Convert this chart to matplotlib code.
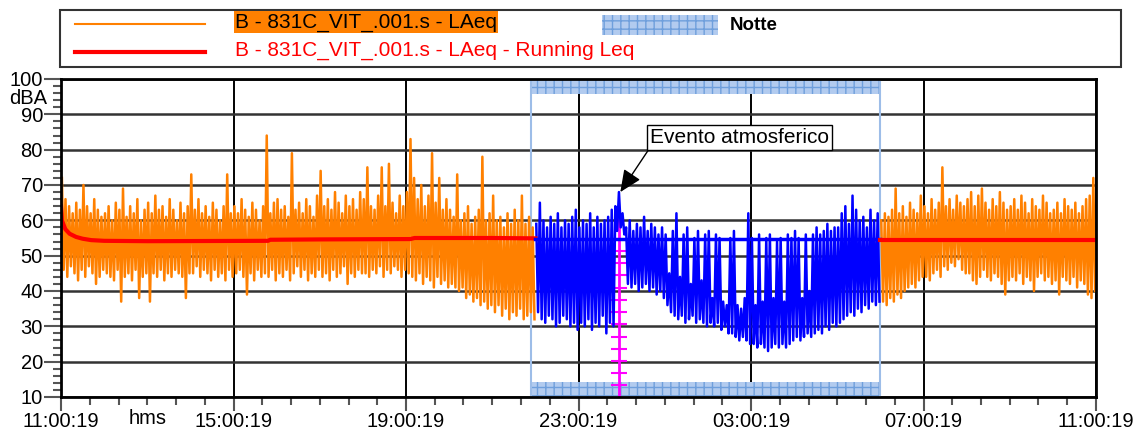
import numpy as np
import matplotlib
matplotlib.use('Agg')
import matplotlib.pyplot as plt
from matplotlib.patches import Rectangle
from matplotlib.lines import Line2D

plt.rcParams['font.family'] = ['Liberation Sans', 'DejaVu Sans']
plt.rcParams['hatch.linewidth'] = 1.0

# time axis in hours after 11:00:19
xtick_pos = [0, 4, 8, 12, 16, 20, 24]
xtick_lab = ['11:00:19', '15:00:19', '19:00:19', '23:00:19', '03:00:19', '07:00:19', '11:00:19']
bin_h = 5 / 60.0

# LAeq, max / min per 5 minutes, 11:00 -> 22:00 (day, orange)
day_hi = [72, 66, 64, 62, 65, 63, 70, 64, 62, 66, 63, 61,
          62, 64, 60, 65, 63, 69, 61, 64, 62, 66, 60, 63,
          65, 62, 67, 63, 64, 61, 66, 63, 60, 65, 62, 64,
          73, 63, 66, 62, 64, 61, 65, 63, 60, 64, 73, 62,
          64, 62, 66, 63, 61, 65, 63, 60, 64, 84, 62, 65,
          66, 63, 64, 61, 79, 63, 65, 62, 66, 64, 61, 67,
          74, 64, 66, 63, 68, 65, 62, 67, 64, 66, 63, 68,
          66, 75, 64, 63, 67, 75, 64, 76, 65, 62, 67, 64,
          68, 83, 72, 66, 70, 64, 67, 79, 65, 72, 63, 66,
          63, 61, 73, 60, 62, 64, 59, 61, 63, 78, 60, 62,
          67, 60, 61, 58, 62, 59, 63, 60, 67, 59, 61, 58]
day_lo = [46, 44, 47, 45, 43, 46, 44, 47, 45, 42, 44, 46,
          45, 44, 43, 46, 37, 44, 45, 43, 46, 38, 44, 45,
          37, 45, 44, 46, 43, 45, 44, 46, 45, 44, 38, 45,
          45, 47, 44, 46, 45, 43, 46, 44, 45, 43, 46, 44,
          45, 46, 44, 39, 45, 43, 46, 44, 45, 44, 46, 43,
          45, 44, 46, 43, 45, 47, 44, 46, 43, 45, 44, 46,
          44, 45, 43, 46, 44, 45, 47, 42, 45, 44, 46, 45,
          45, 44, 46, 45, 47, 44, 46, 45, 47, 46, 44, 46,
          45, 44, 43, 45, 42, 44, 43, 41, 44, 42, 43, 41,
          42, 41, 40, 41, 38, 39, 37, 38, 36, 37, 35, 36,
          34, 36, 33, 35, 32, 34, 33, 35, 32, 33, 34, 32]

# 22:00 -> 06:00 (night, blue)
night_hi = [59, 65, 60, 58, 61, 59, 62, 58, 60, 59, 61, 63,
            58, 60, 59, 62, 58, 61, 59, 60, 61, 63, 64, 68,
            62, 58, 60, 57, 59, 58, 61, 57, 59, 58, 56, 58,
            56, 45, 57, 62, 44, 56, 58, 42, 55, 57, 43, 56,
            57, 38, 56, 55, 37, 36, 55, 57, 36, 35, 38, 62,
            55, 36, 56, 37, 55, 56, 38, 54, 55, 37, 56, 55,
            57, 55, 38, 56, 40, 56, 58, 56, 57, 59, 57, 58,
            58, 62, 64, 59, 67, 63, 60, 61, 58, 63, 60, 62]
night_lo = [34, 32, 31, 33, 32, 30, 31, 33, 32, 30, 31, 29,
            31, 30, 32, 29, 31, 30, 33, 28, 31, 30, 57, 58,
            56, 42, 41, 42, 40, 41, 42, 40, 41, 39, 40, 38,
            36, 34, 33, 32, 33, 31, 32, 33, 31, 32, 31, 30,
            31, 30, 31, 29, 30, 28, 28, 27, 26, 27, 26, 25,
            25, 24, 25, 24, 23, 24, 25, 24, 25, 24, 25, 26,
            27, 26, 27, 28, 27, 28, 29, 28, 30, 29, 31, 30,
            31, 32, 33, 34, 33, 35, 34, 36, 35, 37, 36, 37]

# 06:00 -> 11:00 (morning, orange)
morning_hi = [60, 62, 61, 63, 69, 62, 64, 61, 65, 63, 62, 67,
              64, 62, 66, 63, 65, 75, 64, 66, 63, 67, 65, 64,
              66, 68, 64, 67, 69, 65, 63, 66, 64, 68, 65, 63,
              64, 66, 63, 67, 65, 62, 66, 64, 63, 67, 65, 62,
              63, 65, 62, 66, 64, 63, 65, 62, 64, 66, 67, 72]
morning_lo = [37, 36, 38, 37, 39, 38, 40, 41, 42, 41, 43, 44,
              44, 43, 45, 46, 44, 47, 46, 48, 47, 49, 46, 45,
              45, 43, 42, 44, 46, 44, 43, 45, 44, 42, 39, 43,
              44, 43, 45, 42, 44, 43, 40, 44, 45, 43, 44, 42,
              43, 39, 44, 43, 42, 44, 41, 43, 42, 39, 38, 40]

# running Leq
leq_day_t = [0, 0.02, 0.1, 0.2, 0.35, 0.5, 0.7, 1.0, 2.0, 4.8, 4.85, 6.0, 8.1, 8.2, 10.0, 11.0]
leq_day_v = [64, 60, 57.5, 56.2, 55.3, 54.8, 54.4, 54.2, 54.1, 54.2, 54.5, 54.6, 54.7, 55.0, 55.0, 54.9]
leq_night_t = [11.0, 19.0]
leq_night_v = [54.7, 54.7]
leq_morning_t = [19.0, 24.0]
leq_morning_v = [54.5, 54.5]

# night period and masked event
night_start, night_end = 10.9, 19.0
event_t, event_v = 12.97, 68.0
mask_t = 12.94
mask_top = 60.5
mask_marks = [51.3, 47.8, 44.4, 40.9, 37.5, 34.0, 30.6, 27.1, 23.7, 20.2, 16.8, 13.3]

ORANGE = '#ff8000'
BLUE = '#0000ff'
RED = '#ff0000'
NIGHT_FC = '#b2cbef'
NIGHT_EC = '#6f9fdc'


def zigzag(start, hi, lo):
    n = len(hi)
    t0 = start + np.arange(n) * bin_h
    t = np.column_stack([t0 + 0.25 * bin_h, t0 + 0.75 * bin_h]).ravel()
    v = np.column_stack([hi, lo]).ravel()
    return t, v


W, H = 1145, 433
fig = plt.figure(figsize=(W / 100, H / 100), dpi=100)
fx = lambda x: x / W
fy = lambda y: 1 - y / H
ax = fig.add_axes([fx(61), fy(397), fx(1096) - fx(61), fy(79) - fy(397)])

# night band
ax.add_patch(Rectangle((night_start, 95.8), night_end - night_start, 4.2,
                       facecolor=NIGHT_FC, edgecolor=NIGHT_EC, hatch='++', lw=0, zorder=1))
ax.add_patch(Rectangle((night_start, 10), night_end - night_start, 4.3,
                       facecolor=NIGHT_FC, edgecolor=NIGHT_EC, hatch='++', lw=0, zorder=1))
ax.axvline(night_start, color='#9dbde8', lw=1.5, zorder=1)
ax.axvline(night_end, color='#9dbde8', lw=1.5, zorder=1)

# masked event marker
ax.plot([mask_t, mask_t], [10, mask_top], color='#ff00ff', lw=2, zorder=2)
ax.plot([mask_t] * len(mask_marks), mask_marks, ls='none', marker='_',
        ms=11, mew=1.5, color='#ff00ff', zorder=2)

t, v = zigzag(0, day_hi, day_lo)
ax.plot(t, v, color=ORANGE, lw=1.8, zorder=3)
t, v = zigzag(11.0, night_hi, night_lo)
ax.plot(t, v, color=BLUE, lw=1.8, zorder=3)
t, v = zigzag(19.0, morning_hi, morning_lo)
ax.plot(t, v, color=ORANGE, lw=1.8, zorder=3)

ax.plot(leq_day_t, leq_day_v, color=RED, lw=3, zorder=4)
ax.plot(leq_night_t, leq_night_v, color=BLUE, lw=2.5, zorder=4)
ax.plot(leq_morning_t, leq_morning_v, color=RED, lw=3, zorder=4)

# axes
ax.set_xlim(0, 24)
ax.set_ylim(10, 100)
ax.set_xticks(xtick_pos)
ax.set_xticklabels(xtick_lab)
ax.set_xticks(np.arange(0, 24.01, 2 / 3), minor=True)
ax.set_yticks(np.arange(10, 101, 10))
ax.set_yticks(np.arange(10, 101, 2), minor=True)
ax.tick_params(which='major', length=12, width=1.5, labelsize=14.5, pad=1, color='#555555')
ax.tick_params(which='minor', length=6, width=1.5, color='#555555')
ax.tick_params(axis='x', which='major', length=10, pad=1)
ax.grid(axis='y', which='major', color='#333333', lw=1.8)
ax.grid(axis='x', which='major', color='black', lw=1.4)
ax.set_axisbelow(True)
for s in ax.spines.values():
    s.set_linewidth(2)
    s.set_zorder(5)

fig.text(fx(47), fy(99), 'dBA', ha='right', va='center', fontsize=14.5)
ax.text(2, -0.037, 'hms', transform=ax.get_xaxis_transform(), ha='center', va='top', fontsize=14.5)

ax.annotate('Evento atmosferico', xy=(event_t, event_v), xytext=(15.74, 83.4),
            ha='center', va='center', fontsize=15, zorder=6,
            bbox=dict(boxstyle='square,pad=0.15', fc='white', ec='black', lw=1),
            arrowprops=dict(arrowstyle='-|>,head_length=0.9,head_width=0.4', color='black',
                            lw=1, relpos=(0, 0), shrinkA=0, shrinkB=0))

# legend drawn by hand
fig.add_artist(Rectangle((fx(60), fy(67)), fx(1121) - fx(60), fy(10) - fy(67),
                         fill=False, ec='#333333', lw=1.5))
fig.add_artist(Line2D([fx(75), fx(205)], [fy(24), fy(24)], color=ORANGE, lw=1.5))
fig.add_artist(Line2D([fx(75), fx(205)], [fy(52), fy(52)], color=RED, lw=3))
fig.text(fx(235), fy(22), 'B - 831C_VIT_.001.s - LAeq', ha='left', va='center', fontsize=15,
         bbox=dict(boxstyle='square,pad=0.05', fc=ORANGE, ec='none'))
fig.text(fx(235), fy(50), 'B - 831C_VIT_.001.s - LAeq - Running Leq', ha='left', va='center',
         fontsize=15, color=RED)
fig.add_artist(Rectangle((fx(602), fy(35)), fx(718) - fx(602), fy(15) - fy(35),
                         facecolor=NIGHT_FC, edgecolor=NIGHT_EC, hatch='++', lw=0))
fig.text(fx(730), fy(25), 'Notte', ha='left', va='center', fontsize=13.5, fontweight='bold')

fig.savefig('out.png', dpi=100)
